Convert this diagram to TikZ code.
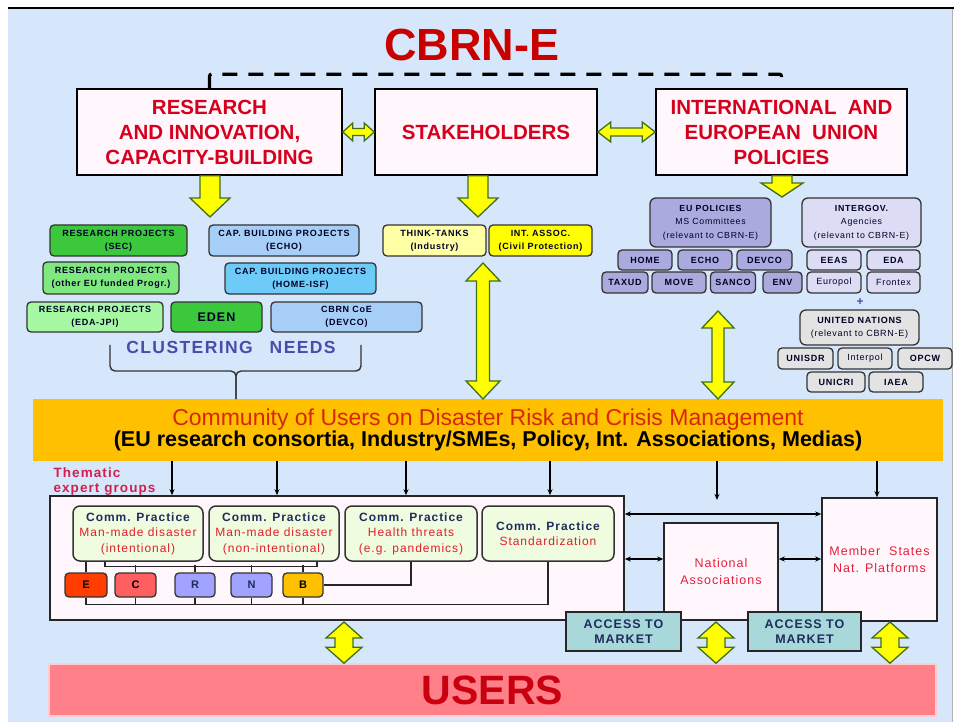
\documentclass[tikz,border=0pt]{standalone}
\usepackage{fontspec}
\setmainfont{Liberation Sans}
\newfontfamily\lsp[LetterSpace=8]{Liberation Sans}
\usetikzlibrary{arrows.meta,calc}
\definecolor{bgblue}{HTML}{D7E7FB}
\definecolor{boxpink}{HTML}{FFF7FC}
\definecolor{topred}{HTML}{D6001C}
\definecolor{titlered}{HTML}{C80000}
\definecolor{yel}{HTML}{FFFF00}
\definecolor{agreen}{HTML}{3F6F1F}
\definecolor{gA}{HTML}{3CC83C}
\definecolor{gB}{HTML}{7FE97F}
\definecolor{gC}{HTML}{A6F9A2}
\definecolor{bA}{HTML}{A6CEF6}
\definecolor{bB}{HTML}{6ECBF8}
\definecolor{tyA}{HTML}{FFFFA6}
\definecolor{lavA}{HTML}{AAAADF}
\definecolor{lavB}{HTML}{DCDCF5}
\definecolor{gry}{HTML}{E3E3E3}
\definecolor{orng}{HTML}{FFC000}
\definecolor{commred}{HTML}{D8260A}
\definecolor{cpfill}{HTML}{EFFCDF}
\definecolor{cpnavy}{HTML}{1F2D5C}
\definecolor{cpred}{HTML}{E0202A}
\definecolor{eE}{HTML}{FF3D00}
\definecolor{eC}{HTML}{FF5F5F}
\definecolor{eR}{HTML}{A2A2FF}
\definecolor{accfill}{HTML}{A8D8DA}
\definecolor{usersbg}{HTML}{FF8088}
\definecolor{usersred}{HTML}{C8000F}
\definecolor{themred}{HTML}{D21F4C}
\definecolor{natred}{HTML}{E41E3C}
\definecolor{clust}{HTML}{4B4BAA}

\newcommand{\downblk}[5]{%
 \path[yarrow] let \p1=#1, \p2=#2 in
 (\x2-#3pt,\y1) -- (\x2+#3pt,\y1) -- (\x2+#3pt,\y2+#5pt) -- (\x2+#4pt,\y2+#5pt) -- (\x2,\y2)
 -- (\x2-#4pt,\y2+#5pt) -- (\x2-#3pt,\y2+#5pt) -- cycle;}
\newcommand{\vdblk}[5]{%
 \path[yarrow] let \p1=#1, \p2=#2 in
 (\x1,\y1) -- (\x1+#4pt,\y1-#5pt) -- (\x1+#3pt,\y1-#5pt) -- (\x1+#3pt,\y2+#5pt) -- (\x1+#4pt,\y2+#5pt)
 -- (\x1,\y2) -- (\x1-#4pt,\y2+#5pt) -- (\x1-#3pt,\y2+#5pt) -- (\x1-#3pt,\y1-#5pt) -- (\x1-#4pt,\y1-#5pt) -- cycle;}
\newcommand{\hdblk}[5]{%
 \path[yarrow] let \p1=#1, \p2=#2 in
 (\x1,\y1) -- (\x1+#5pt,\y1+#4pt) -- (\x1+#5pt,\y1+#3pt) -- (\x2-#5pt,\y1+#3pt) -- (\x2-#5pt,\y1+#4pt)
 -- (\x2,\y1) -- (\x2-#5pt,\y1-#4pt) -- (\x2-#5pt,\y1-#3pt) -- (\x1+#5pt,\y1-#3pt) -- (\x1+#5pt,\y1-#4pt) -- cycle;}

\begin{document}
\begin{tikzpicture}[x=1pt,y=-1pt,
 topbox/.style={draw=black, line width=1.6pt, fill=boxpink, align=center, inner sep=0pt,
   font=\fontsize{20.5}{25}\selectfont\bfseries, text=topred},
 yarrow/.style={fill=yel, draw=agreen, line width=1.3pt, line join=miter},
 sbox/.style={draw=black!80, line width=1.3pt, rounded corners=4pt, align=center, inner sep=0pt,
   text=black!85!blue, font=\lsp\bfseries\fontsize{9}{13}\selectfont},
 cpbox/.style={draw=black!80, line width=1.5pt, rounded corners=7pt, fill=cpfill, align=center, inner sep=0pt,
   font=\lsp\fontsize{12}{15.5}\selectfont, text=cpred, minimum height=55},
 ebox/.style={draw=black!80, line width=1.3pt, rounded corners=4pt, inner sep=0pt,
   font=\bfseries\fontsize{11}{11}\selectfont, minimum height=24},
 wbox/.style={draw=black!85, line width=1.5pt, fill=boxpink, align=center, inner sep=0pt,
   font=\lsp\fontsize{12.5}{17}\selectfont, text=natred},
 accbox/.style={draw=black!85, line width=1.5pt, fill=accfill, align=center, inner sep=0pt,
   font=\lsp\bfseries\fontsize{12.5}{15}\selectfont, text=cpnavy, minimum height=39},
 conn/.style={draw=black!85, line width=1.2pt},
 tarr/.style={draw=black, line width=1.2pt, -{Stealth[length=6pt,width=5pt]}},
 dtarr/.style={draw=black, line width=1.2pt, {Stealth[length=6pt,width=5pt]}-{Stealth[length=6pt,width=5pt]}},
 brace/.style={draw=black!80, line width=1.4pt, rounded corners=5pt}
]
\useasboundingbox (0,0) rectangle (954,722);
\fill[white] (0,0) rectangle (954,722);
\fill[bgblue] (8,9) rectangle (952,722);
\draw[line width=1.5pt] (8,8) -- (954,8);
\draw[gray!60, line width=0.8pt] (952,9) -- (952,722);

% title
\node[font=\fontsize{45}{45}\selectfont\bfseries, text=titlered] (title) at (472,45) {CBRN-E};

% top boxes
\node[topbox, minimum width=265, minimum height=86] (res) at (209.5,132) {RESEARCH\\AND INNOVATION,\\CAPACITY-BUILDING};
\node[topbox, minimum width=222, minimum height=86] (stk) at (486,132) {STAKEHOLDERS};
\node[topbox, minimum width=251, minimum height=86] (intl) at (781.5,132) {INTERNATIONAL\ \ AND\\EUROPEAN\ \ UNION\\POLICIES};
\draw[line width=3.2pt, dash pattern=on 15pt off 11pt, rounded corners=2pt] (res.north) -- ++(0,-14) -| (intl.north);

\hdblk{(res.east)}{(stk.west)}{3.5}{9}{10}
\hdblk{(stk.east)}{(intl.west)}{4}{10}{13}

\coordinate (rtip) at (210,217);
\coordinate (stip) at (478,217);
\coordinate (itip) at (782,197);
\downblk{(res.south)}{(rtip)}{10}{20}{19}
\downblk{(stk.south)}{(stip)}{10}{20}{19}
\downblk{(intl.south)}{(itip)}{10}{21}{14}

% left cluster
\node[sbox, fill=gA, minimum width=137, minimum height=31] (rsec) at (118.5,240.5) {RESEARCH PROJECTS\\(SEC)};
\node[sbox, fill=bA, minimum width=150, minimum height=31] (cecho) at (284,240.5) {CAP. BUILDING PROJECTS\\(ECHO)};
\node[sbox, fill=gB, minimum width=136, minimum height=32] (roth) at (111,278) {RESEARCH PROJECTS\\(other EU funded Progr.)};
\node[sbox, fill=bB, minimum width=151, minimum height=31] (chome) at (300.5,278.5) {CAP. BUILDING PROJECTS\\(HOME-ISF)};
\node[sbox, fill=gC, minimum width=136, minimum height=30] (reda) at (95,317) {RESEARCH PROJECTS\\(EDA-JPI)};
\node[sbox, fill=gA, minimum width=91, minimum height=30, font=\lsp\bfseries\fontsize{12.5}{13}\selectfont] (eden) at (216.5,317) {EDEN};
\node[sbox, fill=bA, minimum width=151, minimum height=30] (coe) at (346.5,317) {CBRN CoE\\(DEVCO)};
\node[text=clust, font=\lsp\bfseries\fontsize{17.5}{18}\selectfont] (clu) at (231,347) {CLUSTERING\hspace{17pt}NEEDS};

% stakeholder subs
\node[sbox, fill=tyA, minimum width=103, minimum height=31] (think) at (434.5,240.5) {THINK-TANKS\\(Industry)};
\node[sbox, fill=yel, minimum width=103, minimum height=31] (iassoc) at (540.5,240.5) {INT. ASSOC.\\(Civil Protection)};

% right cluster
\node[sbox, fill=lavA, minimum width=121, minimum height=49, rounded corners=6pt, font=\lsp\bfseries\fontsize{8.8}{13.5}\selectfont] (eupol) at (710.5,222.5) {EU POLICIES\\{\mdseries MS Committees}\\{\mdseries(relevant to CBRN-E)}};
\node[sbox, fill=lavA, minimum width=54, minimum height=20] (home) at (645,260) {HOME};
\node[sbox, fill=lavA, minimum width=54, minimum height=20] (echo) at (705,260) {ECHO};
\node[sbox, fill=lavA, minimum width=55, minimum height=20] (devco) at (764.5,260) {DEVCO};
\node[sbox, fill=lavA, minimum width=46, minimum height=21] (taxud) at (625,282.5) {TAXUD};
\node[sbox, fill=lavA, minimum width=54, minimum height=21] (move) at (679,282.5) {MOVE};
\node[sbox, fill=lavA, minimum width=45, minimum height=21] (sanco) at (733,282.5) {SANCO};
\node[sbox, fill=lavA, minimum width=39, minimum height=21] (env) at (782.5,282.5) {ENV};

\node[sbox, fill=lavB, minimum width=119, minimum height=49, rounded corners=6pt, font=\lsp\bfseries\fontsize{8.8}{13.5}\selectfont] (igov) at (861.5,222.5) {INTERGOV.\\{\mdseries Agencies}\\{\mdseries(relevant to CBRN-E)}};
\node[sbox, fill=lavB, minimum width=54, minimum height=20] (eeas) at (834,260) {EEAS};
\node[sbox, fill=lavB, minimum width=53, minimum height=20] (eda) at (893.5,260) {EDA};
\node[sbox, fill=lavB, minimum width=54, minimum height=21, font=\lsp\fontsize{9}{13}\selectfont] (europol) at (834,282.5) {Europol};
\node[sbox, fill=lavB, minimum width=53, minimum height=21, font=\lsp\fontsize{9}{13}\selectfont] (frontex) at (893.5,282.5) {Frontex};
\node[text=clust, font=\bfseries\fontsize{12}{12}\selectfont] (plus) at (860,302) {+};
\node[sbox, fill=gry, minimum width=119, minimum height=35, rounded corners=6pt] (un) at (859.5,327.5) {UNITED NATIONS\\{\mdseries(relevant to CBRN-E)}};
\node[sbox, fill=gry, minimum width=55, minimum height=21] (unisdr) at (805.5,358.5) {UNISDR};
\node[sbox, fill=gry, minimum width=54, minimum height=21, font=\lsp\fontsize{9}{13}\selectfont] (interpol) at (865,358.5) {Interpol};
\node[sbox, fill=gry, minimum width=54, minimum height=21] (opcw) at (925,358.5) {OPCW};
\node[sbox, fill=gry, minimum width=58, minimum height=20] (unicri) at (836,382) {UNICRI};
\node[sbox, fill=gry, minimum width=54, minimum height=20] (iaea) at (896,382) {IAEA};

% community bar
\node[fill=orng, minimum width=910, minimum height=62, inner sep=0pt, align=center] (comm) at (488,430)
 {{\fontsize{23}{25}\selectfont\color{commred}Community of Users on Disaster Risk and Crisis Management}\\[-1pt]
  {\fontsize{21.5}{25}\selectfont\bfseries (EU research consortia, Industry/SMEs, Policy, Int. Associations, Medias)}};

% brace
\coordinate (bl) at (110,345);
\coordinate (br) at (361,345);
\coordinate (bm) at (236,371);
\coordinate (bt) at (236,399);
\draw[brace] (bl) |- (bm) -- (bt);
\draw[brace] (br) |- (bm) -- (bt);

% vertical double yellow arrows
\coordinate (s1) at (483,263);
\coordinate (s2) at (483,399);
\vdblk{(s1)}{(s2)}{6.5}{17}{18}
\coordinate (p1) at (718,311);
\coordinate (p2) at (718,399);
\vdblk{(p1)}{(p2)}{6}{16}{17}

% thematic groups
\node[anchor=west, align=left, text=themred, font=\lsp\bfseries\fontsize{13.5}{15}\selectfont] (them) at (50,482) {Thematic\\expert groups};

\node[draw=black!85, line width=1.6pt, fill=boxpink, minimum width=574, minimum height=124, inner sep=0pt] (tbig) at (337,558) {};
\node[cpbox, minimum width=130] (cp1) at (138,533.5) {{\bfseries\color{cpnavy}Comm. Practice}\\Man-made disaster\\(intentional)};
\node[cpbox, minimum width=130] (cp2) at (274,533.5) {{\bfseries\color{cpnavy}Comm. Practice}\\Man-made disaster\\(non-intentional)};
\node[cpbox, minimum width=132] (cp3) at (411,533.5) {{\bfseries\color{cpnavy}Comm. Practice}\\Health threats\\(e.g. pandemics)};
\node[cpbox, minimum width=132] (cp4) at (548,533.5) {{\bfseries\color{cpnavy}Comm. Practice}\\Standardization};

\node[ebox, fill=eE, minimum width=42] (E) at (86,585) {E};
\node[ebox, fill=eC, minimum width=41] (C) at (135.5,585) {C};
\node[ebox, fill=eR, minimum width=40, text=cpnavy] (R) at (195,585) {R};
\node[ebox, fill=eR, minimum width=41, text=cpnavy] (N) at (251.5,585) {N};
\node[ebox, fill=orng, minimum width=40] (B) at (303,585) {B};

% connectors inside
\draw[conn] (E.north) -- (E.north |- cp1.south);
\draw[conn] ($(cp1.south)+(-33,0)$) -- ++(0,5) -| ($(cp2.south)+(43,0)$);
\foreach \n in {C,R,N,B} \draw[conn] (\n.north) -- ++(0,-7);
\draw[conn] (cp3.south) |- (B.east);
\draw[conn] (E.south) -- ++(0,7) -| (cp4.south);
\foreach \n in {C,R,N,B} \draw[conn] (\n.south) -- ++(0,7);

% right boxes
\node[wbox, minimum width=114, minimum height=97] (na) at (721,571.5) {National\\Associations};
\node[wbox, minimum width=115, minimum height=123] (ms) at (879.5,559.5) {Member\ \ States\\Nat. Platforms};

% arrows from community bar
\coordinate (d1) at (172,461);
\coordinate (d2) at (277,461);
\coordinate (d3) at (406,461);
\coordinate (d4) at (550,461);
\coordinate (d5) at (717,461);
\coordinate (d5e) at (717,500);
\coordinate (d6) at (877,461);
\foreach \d in {d1,d2,d3,d4} \draw[tarr] (\d) -- (\d |- tbig.north);
\draw[tarr] (d5) -- (d5e);
\draw[tarr] (d6) -- (d6 |- ms.north);

\coordinate (h1) at (0,514);
\coordinate (h2) at (0,559);
\draw[dtarr] (tbig.east |- h1) -- (ms.west |- h1);
\draw[dtarr] (tbig.east |- h2) -- (na.west |- h2);
\draw[dtarr] (na.east |- h2) -- (ms.west |- h2);

% access boxes
\node[accbox, minimum width=115] (acc1) at (623.5,631.5) {ACCESS TO\\MARKET};
\node[accbox, minimum width=113] (acc2) at (804.5,631.5) {ACCESS TO\\MARKET};

% users
\node[fill=usersbg, draw=white!60!usersbg, line width=1.5pt, minimum width=887, minimum height=52, inner sep=0pt,
  font=\fontsize{41}{41}\selectfont\bfseries, text=usersred] (users) at (492.5,690) {USERS};

\coordinate (u1) at (344,622);
\coordinate (u2) at (716,622);
\coordinate (u3) at (890,622);
\vdblk{(u1)}{(u1 |- users.north)}{9}{18}{16}
\vdblk{(u2)}{(u2 |- users.north)}{9}{18}{16}
\vdblk{(u3)}{(u3 |- users.north)}{9}{18}{16}
\end{tikzpicture}
\end{document}
